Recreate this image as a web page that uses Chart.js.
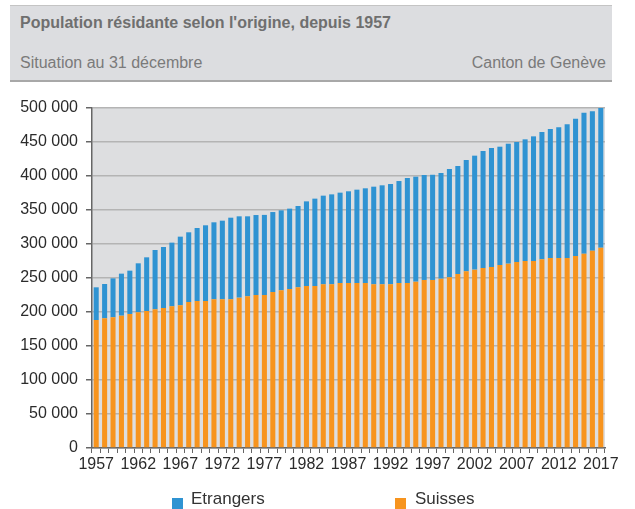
<!DOCTYPE html>
<html>
<head>
<meta charset="utf-8">
<script src="https://cdn.jsdelivr.net/npm/chart.js@4"></script>
<style>
  body { margin: 0; background: #fff; font-family: "Liberation Sans", Arial, sans-serif; }
  #wrap { position: relative; width: 635px; height: 509px; overflow: hidden; }
  #chart { position: absolute; left: 0; top: 0; }
  #header {
    position: absolute; left: 10px; top: 5px; width: 602px; height: 74px;
    background: #dcdde0; border-top: 1px solid #c4c4c4; border-bottom: 2px solid #a8a8a8;
  }
  #title { position: absolute; left: 10px; top: 8px; font-size: 16px; font-weight: bold; color: #6f6f6f; }
  #sub { position: absolute; left: 10px; top: 48px; font-size: 16px; color: #7a7a7a; }
  #src { position: absolute; right: 6px; top: 48px; font-size: 16px; color: #7a7a7a; }
  .leg { position: absolute; top: 489px; font-size: 17px; color: #333; }
  .sw { position: absolute; top: 498px; width: 11px; height: 11px; }
</style>
</head>
<body>
<div id="wrap">
  <canvas id="chart" width="635" height="509"></canvas>
  <div id="header">
    <div id="title">Population résidante selon l'origine, depuis 1957</div>
    <div id="sub">Situation au 31 décembre</div>
    <div id="src">Canton de Genève</div>
  </div>
  <div class="sw" style="left:172px;background:#2f93d2"></div>
  <div class="leg" style="left:191px">Etrangers</div>
  <div class="sw" style="left:395px;background:#f7941e"></div>
  <div class="leg" style="left:415px">Suisses</div>
</div>
<script>
// Years 1957 - 2017
const years = [];
for (let y = 1957; y <= 2017; y++) years.push(String(y));

// Swiss residents
const suisses = [
  188200, 190700, 192200, 194600, 197100, 199500, 201500, 203900, 205900, 208300,
  209800, 214700, 216200, 216200, 218600, 218600, 218600, 221100, 223000, 225000,
  225000, 229400, 231900, 233800, 236300, 238200, 238200, 240700, 240700, 242600,
  242600, 242600, 242600, 240700, 240700, 240700, 242600, 242600, 244600, 247100,
  247100, 249000, 251000, 255900, 259800, 262300, 264700, 266200, 269100, 271100,
  273500, 275000, 275000, 277500, 279400, 279400, 279400, 282400, 285800, 290200,
  294600
];

// Foreign residents
const etrangers = [
  48100, 50500, 57300, 61800, 63700, 72100, 78900, 87300, 89700, 93700,
  101000, 102500, 107300, 111300, 113300, 115700, 120100, 119600, 117700, 117600,
  117800, 117600, 117600, 118200, 119600, 124500, 128500, 130400, 132300, 132900,
  134900, 137300, 139300, 143600, 145600, 147500, 150000, 154500, 154400, 154400,
  154700, 155400, 159300, 158800, 163700, 167600, 172100, 175000, 174000, 176400,
  176500, 178900, 183300, 187200, 189700, 192200, 196600, 201900, 207300, 204900,
  205400
];

const yTicks = [0, 50000, 100000, 150000, 200000, 250000, 300000, 350000, 400000, 450000, 500000];

function fmt(v) {
  return String(v).replace(/\B(?=(\d{3})+(?!\d))/g, " ");
}

// grey plot background
const plotBg = {
  id: "plotBg",
  beforeDraw(chart) {
    const a = chart.chartArea;
    const c = chart.ctx;
    c.save();
    c.fillStyle = "#dddee0";
    c.fillRect(a.left, a.top, a.right - a.left, a.bottom - a.top);
    c.restore();
  }
};

Chart.defaults.font.family = '"Liberation Sans", Arial, sans-serif';
Chart.defaults.font.size = 16;
Chart.defaults.color = "#2b2b2b";

new Chart(document.getElementById("chart"), {
  type: "bar",
  data: {
    labels: years,
    datasets: [
      { label: "Suisses", data: suisses, backgroundColor: "#f7941e", barPercentage: 0.6, categoryPercentage: 1 },
      { label: "Etrangers", data: etrangers, backgroundColor: "#2f93d2", barPercentage: 0.6, categoryPercentage: 1 }
    ]
  },
  options: {
    responsive: false,
    animation: false,
    layout: { padding: { top: 108, right: 30, bottom: 31, left: 0 } },
    plugins: { legend: { display: false }, tooltip: { enabled: false } },
    scales: {
      x: {
        stacked: true,
        grid: { drawOnChartArea: false, tickLength: 5, tickColor: "#666" },
        border: { color: "#666", width: 1.5 },
        ticks: {
          autoSkip: false, maxRotation: 0, padding: 2,
          callback: (v, i) => (i % 5 === 0 ? years[i] : "")
        },
        afterFit: s => { s.height = 30; }
      },
      y: {
        stacked: true,
        min: 0, max: 500000,
        afterBuildTicks: s => { s.ticks = yTicks.map(v => ({ value: v })); },
        grid: { color: "#b4b4b4", lineWidth: 1.5, tickLength: 6, tickColor: "#666" },
        border: { color: "#666", width: 1.5 },
        ticks: { padding: 8, callback: v => fmt(v) },
        afterFit: s => { s.width = 92; }
      }
    }
  },
  plugins: [plotBg]
});
</script>
</body>
</html>
